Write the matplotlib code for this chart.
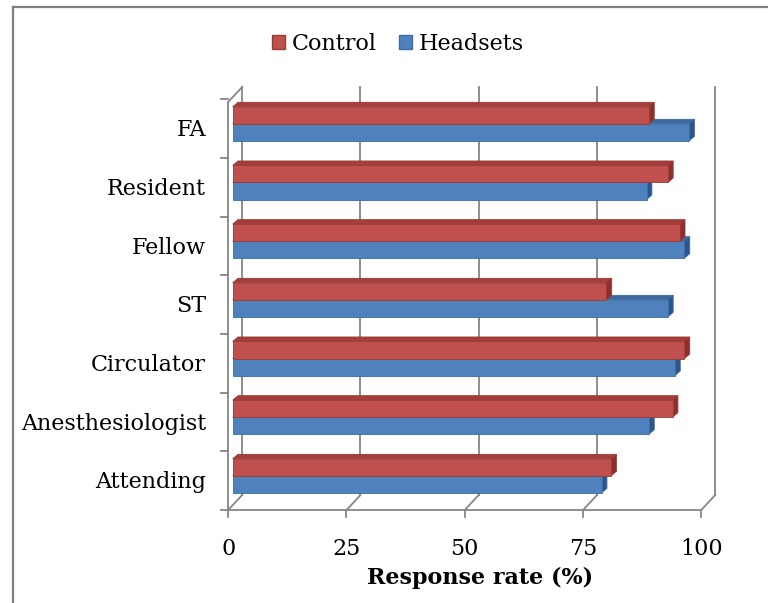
import matplotlib
matplotlib.use("Agg")
import matplotlib.pyplot as plt
from matplotlib.patches import Polygon, Patch
from matplotlib.lines import Line2D

# data (bottom to top)
categories = ['Attending', 'Anesthesiologist', 'Circulator', 'ST', 'Fellow', 'Resident', 'FA']
control = [80, 93, 95.5, 79, 94.5, 92, 88]
headsets = [78, 88, 93.5, 92, 95.5, 87.5, 96.5]
ticks = [0, 25, 50, 75, 100]

red, red_side, red_top, red_edge = '#C0504D', '#8C302D', '#A33E3B', '#9A3A37'
blue, blue_side, blue_top, blue_edge = '#4F81BD', '#2C5687', '#3C689C', '#3D6CA6'
grid_c = '#868686'

plt.rcParams['font.family'] = ['DejaVu Serif']
fs = 16

fig = plt.figure(figsize=(7.68, 6.03), dpi=100)
ax = fig.add_axes([215/768, (603-520)/603, 520/768, 440/603])
ax.set_xlim(-3.742, 106.19)
ax.set_ylim(-0.6704, 6.829)
ax.axis('off')

# oblique depth of the chart box, bars sit 32% into it
DX, DY = 2.96, 0.2557
fx, fy = -0.32*DX, -0.32*DY       # front plane relative to bars
bx, by = 0.68*DX, 0.68*DY         # back plane relative to bars
y_bot = -0.5 + 0.082              # slot bottom in bar plane
top_back = 6.71

# back wall gridlines + floor
for v in ticks:
    ax.plot([v+bx, v+bx], [y_bot+by, top_back], color=grid_c, lw=1.3, zorder=1)
    ax.plot([v+fx, v+bx], [-0.5, y_bot+by], color=grid_c, lw=1.3, zorder=1)
    ax.plot([v+fx, v+fx], [-0.5, -0.62], color=grid_c, lw=1.3, zorder=1, clip_on=False)
    ax.text(v+fx, -1.165, str(v), ha='center', va='center', fontsize=fs)
ax.plot([fx, 100+fx], [-0.5, -0.5], color=grid_c, lw=1.3, zorder=1)

# left wall
ax.plot([fx, fx], [-0.5, top_back-DY], color=grid_c, lw=1.3, zorder=1)
ax.plot([fx, bx], [top_back-DY, top_back], color=grid_c, lw=1.3, zorder=1)
for i in range(len(categories)+1):
    ax.plot([fx-1.6, fx], [i-0.5, i-0.5], color=grid_c, lw=1.3, zorder=1, clip_on=False)

# bars
h = 0.29
ddx, ddy = 1.12, 0.077
y_red = [i + 0.082 + h/2 for i in range(len(categories))]
y_blue = [i + 0.082 - h/2 for i in range(len(categories))]


def faces(vals, ys, side_c, top_c, edge_c, z):
    for v, y in zip(vals, ys):
        y0, y1 = y - h/2, y + h/2
        top = Polygon([(0, y1), (v, y1), (v+ddx, y1+ddy), (ddx, y1+ddy)],
                      closed=True, fc=top_c, ec=edge_c, lw=0.6, zorder=z)
        side = Polygon([(v, y0), (v+ddx, y0+ddy), (v+ddx, y1+ddy), (v, y1)],
                       closed=True, fc=side_c, ec=edge_c, lw=0.6, zorder=z)
        ax.add_patch(top)
        ax.add_patch(side)


faces(headsets, y_blue, blue_side, blue_top, blue_edge, 2)
ax.barh(y_blue, headsets, height=h, color=blue, edgecolor=blue_edge, lw=0.6, zorder=3)
faces(control, y_red, red_side, red_top, red_edge, 4)
ax.barh(y_red, control, height=h, color=red, edgecolor=red_edge, lw=0.6, zorder=5)

# category labels
for i, c in enumerate(categories):
    ax.text(-5.64, i - 0.03, c, ha='right', va='center', fontsize=fs, clip_on=False)

fig.text(480/768, 1-578/603, 'Response rate (%)', ha='center', va='center',
         fontsize=fs, fontweight='bold')

handles = [Patch(fc=red, ec=red_edge, label='Control'),
           Patch(fc=blue, ec=blue_edge, label='Headsets')]
fig.legend(handles=handles, loc='center', bbox_to_anchor=(398/768, 1-44/603), ncol=2,
           frameon=False, fontsize=fs, handlelength=0.6, handleheight=0.6,
           handletextpad=0.3, columnspacing=1.0)

# outer frame (only left/top visible)
fig.add_artist(Line2D([13/768, 13/768], [0, 1-6.5/603], color='#7F7F7F', lw=1.6))
fig.add_artist(Line2D([13/768, 1], [1-6.5/603, 1-6.5/603], color='#7F7F7F', lw=1.6))

fig.savefig('out.png', dpi=100, facecolor='white')
